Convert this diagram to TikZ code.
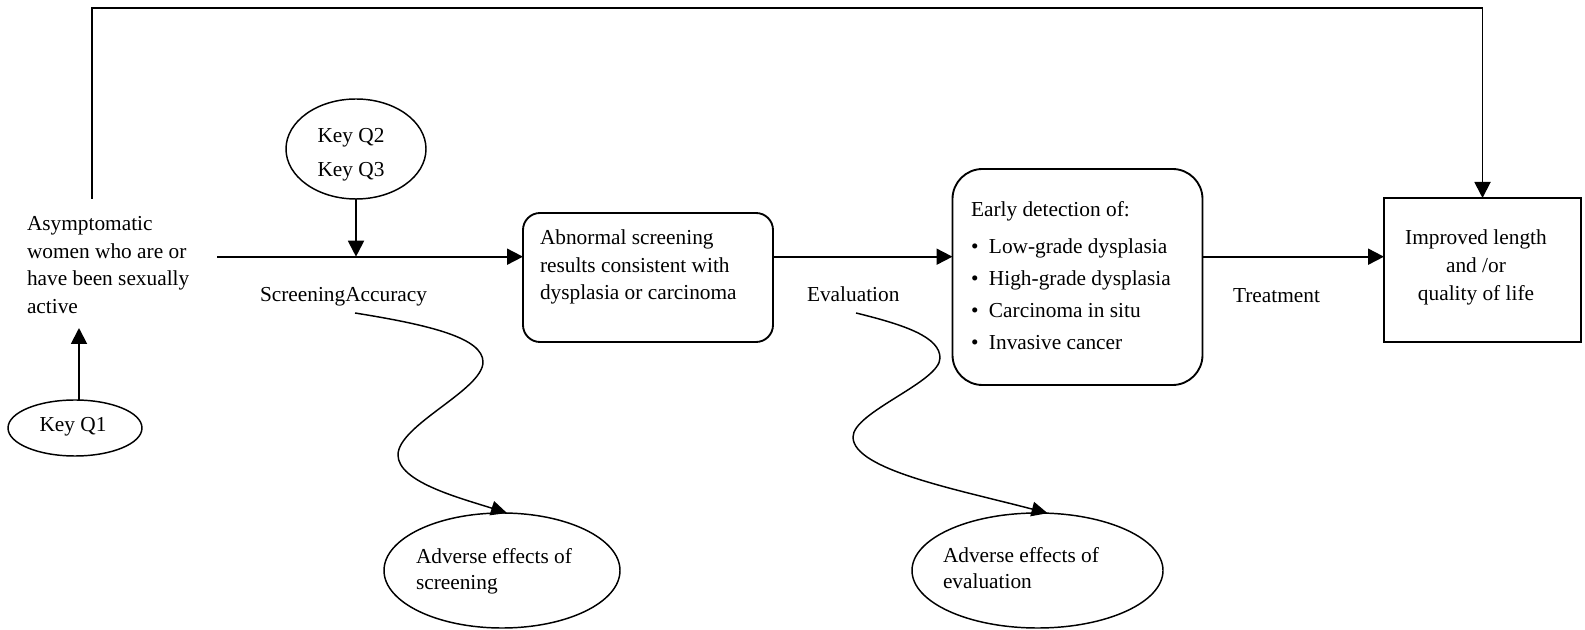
\documentclass[tikz,border=0pt]{standalone}
\usepackage{fontspec}
\setmainfont{Liberation Serif}
\usetikzlibrary{arrows.meta,shapes.geometric}
\newcommand{\mylines}[3]{{\fontsize{16}{#1}\selectfont\begin{tabular}[t]{@{}#2@{}}#3\end{tabular}}}
\begin{document}
\begin{tikzpicture}[x=0.75pt,y=-0.75pt,font=\fontsize{16}{20.6}\selectfont,
  ln/.style={line width=1.4pt},
  arr/.style={ln,-{Triangle[length=12pt,width=12pt]}},
  carr/.style={line width=1.1pt,-{Triangle[length=12pt,width=11pt]}},
  rbox/.style={draw,line width=1.4pt,inner sep=0pt,outer sep=0pt},
  oval/.style={draw,ellipse,line width=1.1pt,inner sep=0pt,outer sep=0pt},
  txt/.style={inner sep=0pt,outer sep=0pt}]
\useasboundingbox (0,0) rectangle (1585,630);

% boxes and ovals
\node[rbox,rounded corners=12.75pt,minimum width=187.5pt,minimum height=96.75pt] (b1) at (648,277.5) {};
\node[rbox,rounded corners=22.5pt,minimum width=187.5pt,minimum height=162pt] (b2) at (1077.5,277) {};
\node[rbox,minimum width=147.75pt,minimum height=108pt] (b3) at (1482.5,270) {};
\node[oval,minimum width=105pt,minimum height=75pt] (q23) at (356,149) {};
\node[oval,minimum width=100.5pt,minimum height=42pt] (q1) at (75,428) {};
\node[oval,minimum width=177pt,minimum height=86.25pt] (ae1) at (502,570.5) {};
\node[oval,minimum width=188.25pt,minimum height=86.25pt] (ae2) at (1037.5,570.5) {};

% texts
\node[txt,anchor=base west] (pop) at (27,231) {\mylines{20.6pt}{l}{Asymptomatic\\women who are or\\have been sexually\\active}};
\node[txt,anchor=base] (q23t) at (351,143) {\mylines{25.5pt}{c}{Key Q2\\Key Q3}};
\node[txt,anchor=base] (q1t) at (73,432) {Key Q1};
\node[txt,anchor=base west] (b1t) at (540,245) {\mylines{20.6pt}{l}{Abnormal screening\\results consistent with\\dysplasia or carcinoma}};
\node[txt,anchor=base west] (b2t) at (971,217) {{\fontsize{16}{24pt}\selectfont\begin{tabular}[t]{@{}l@{\hspace{7.9pt}}l@{}}\multicolumn{2}{@{}l@{}}{Early detection of:}\\[3.75pt]
 \textbullet & Low-grade dysplasia\\
 \textbullet & High-grade dysplasia\\
 \textbullet & Carcinoma in situ\\
 \textbullet & Invasive cancer\end{tabular}}};
\node[txt,anchor=base] (b3t) at (1476,245) {\mylines{21pt}{c}{Improved length\\and /or\\quality of life}};
\node[txt,anchor=base west] (l1) at (260,302) {ScreeningAccuracy};
\node[txt,anchor=base west] (l2) at (807,302) {Evaluation};
\node[txt,anchor=base west] (l3) at (1233,303) {Treatment};
\node[txt,anchor=base west] (ae1t) at (416,563) {\mylines{20.25pt}{l}{Adverse effects of\\screening}};
\node[txt,anchor=base west] (ae2t) at (943,562) {\mylines{20pt}{l}{Adverse effects of\\evaluation}};

% free ends
\coordinate (popTop) at (92,199);
\coordinate (tlc) at (92,8);
\coordinate (s1) at (217,256.7);
\coordinate (popBot) at (79,328);
\coordinate (c1s) at (355,313);
\coordinate (c2s) at (856,313);

% connectors
\draw[arr] (popTop) -- (tlc) -| (b3.north);
\draw[arr] (s1) -- (b1.west |- s1);
\draw[arr] (q23.south) -- (q23.south |- s1);
\draw[arr] (b1.east |- s1) -- (b2.west |- s1);
\draw[arr] (b2.east |- s1) -- (b3.west |- s1);
\draw[arr] (q1.north -| popBot) -- (popBot);
\draw[carr] (c1s) .. controls (430,325) and (483,338) .. (483,362)
  .. controls (483,390) and (398,425) .. (398,455)
  .. controls (398,482) and (460,498) .. (ae1.85);
\draw[carr] (c2s) .. controls (905,325) and (940,337) .. (940,358)
  .. controls (940,382) and (853,412) .. (853,437)
  .. controls (853,470) and (960,490) .. (ae2.80);
\end{tikzpicture}
\end{document}
